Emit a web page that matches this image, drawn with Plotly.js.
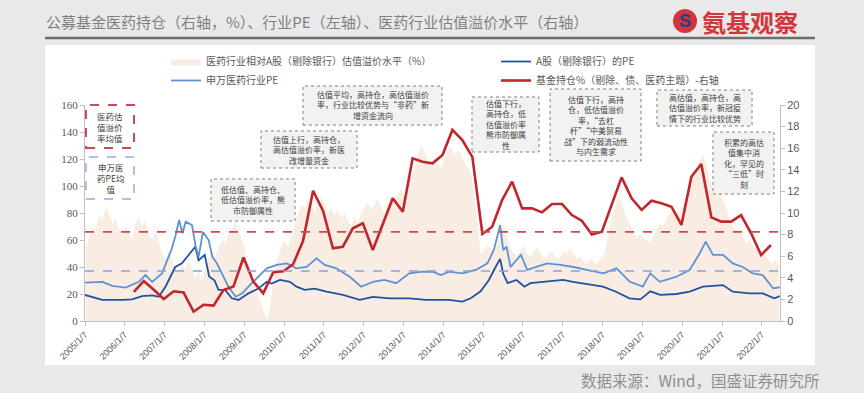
<!DOCTYPE html>
<html><head><meta charset="utf-8">
<script src="https://cdn.plot.ly/plotly-3.0.1.min.js"></script>
<style>html,body{margin:0;padding:0;background:#e9e9e9;}#chart{width:864px;height:393px;}</style>
</head><body><div id="chart"></div>
<script>
// ---------- DATA ----------
// Year tick labels
const tickYears = [2005,2006,2007,2008,2009,2010,2011,2012,2013,2014,2015,2016,2017,2018,2019,2020,2021,2022];
const tickLabels = tickYears.map(y => y + '/1/7');

// 医药行业相对A股（剔除银行）估值溢价水平（%） monthly, 2005-01 .. 2022-06
const premiumStart = [2005, 1];
const premiumValues = [
  55,62,70,66,78,74,85,80,72,76,68,64,
  70,66,60,72,78,70,74,64,60,66,58,50,
  46,52,44,40,36,42,38,44,40,32,38,30,
  40,46,52,48,55,60,58,64,68,72,66,60,
  52,40,30,24,18,12,4,2,20,42,48,56,
  60,54,62,72,80,86,84,90,86,80,88,92,
  86,80,84,78,82,76,80,74,70,78,72,80,
  84,88,82,86,90,84,80,86,92,88,94,98,
  92,100,106,112,122,130,126,118,114,120,116,112,
  120,126,130,122,126,124,118,114,110,96,70,50,
  52,56,54,50,58,66,72,62,54,50,48,52,
  56,50,48,52,54,50,46,48,52,50,46,48,
  52,50,54,50,46,48,44,42,46,44,42,46,
  48,58,70,80,88,92,84,76,72,66,62,64,
  62,60,58,62,68,72,70,76,80,84,82,80,
  86,94,100,106,112,118,124,116,104,98,92,96,
  90,84,74,70,66,68,62,58,60,56,54,52,
  50,48,44,42,46,40
];
const premiumMean = 66;   // 医药估值溢价率均值
const swPeMean = 37;      // 申万医药PE均值

// A股（剔除银行）的PE
const aPeDates = ['2005-01-07','2005-06-15','2005-12-15','2006-03-15','2006-06-15','2006-09-15','2006-11-15','2007-01-15','2007-04-15','2007-06-15','2007-10-15','2007-11-15','2008-01-10','2008-02-20','2008-04-10','2008-05-15','2008-07-15','2008-09-15','2008-11-15','2009-02-15','2009-05-15','2009-08-01','2009-09-15','2009-12-01','2010-03-01','2010-05-01','2010-07-15','2010-10-15','2011-02-01','2011-07-01','2011-12-01','2012-04-01','2012-09-01','2013-03-01','2013-08-01','2013-12-01','2014-03-01','2014-07-01','2014-09-15','2014-12-15','2015-03-01','2015-05-01','2015-06-12','2015-07-10','2015-08-20','2015-11-10','2016-01-20','2016-03-15','2016-08-15','2017-01-10','2017-04-10','2017-08-10','2018-01-10','2018-05-10','2018-09-10','2018-12-20','2019-03-20','2019-06-20','2019-11-15','2020-03-15','2020-07-15','2021-01-15','2021-04-15','2021-09-15','2022-01-15','2022-05-01','2022-06-20'];
const aPeValues = [19.3,15.6,15.6,16,18.5,19,18,25.4,40,42.7,55,45,49,33,30,23,23,16.8,15.6,20.5,24,29,27.7,30.4,29,25.4,23,24,21.7,19.3,15.6,17.9,16.8,16.8,15.6,15.6,15.6,14.3,16.8,22,30.4,40,46,35,28,30.4,25.4,28,29,30.4,29,27.4,25.4,21.7,16.8,16,22,19.3,20,21.7,25.4,26.6,21.7,20.5,20.5,16.8,18.4];

// 申万医药行业PE
const swPeDates = ['2005-01-07','2005-06-15','2005-09-15','2006-01-15','2006-05-15','2006-07-15','2006-09-15','2006-12-15','2007-01-20','2007-03-10','2007-04-15','2007-05-20','2007-06-20','2007-07-20','2007-09-15','2007-10-20','2007-11-15','2007-12-25','2008-02-15','2008-03-20','2008-05-01','2008-06-15','2008-08-15','2008-10-20','2008-12-20','2009-03-01','2009-05-15','2009-08-01','2009-11-01','2010-02-01','2010-05-01','2010-08-01','2010-11-01','2011-01-15','2011-05-01','2011-09-01','2011-12-15','2012-04-01','2012-07-15','2012-11-01','2013-03-01','2013-07-01','2013-10-01','2013-12-15','2014-03-01','2014-07-01','2014-11-01','2015-02-15','2015-04-15','2015-06-12','2015-07-10','2015-08-10','2015-09-15','2015-12-20','2016-02-15','2016-05-15','2016-08-15','2016-12-15','2017-04-15','2017-08-15','2018-01-15','2018-05-15','2018-09-15','2019-01-10','2019-03-20','2019-06-15','2019-11-15','2020-03-15','2020-06-15','2020-08-10','2020-10-15','2021-01-15','2021-04-15','2021-07-15','2021-10-15','2022-01-15','2022-04-20','2022-06-20'];
const swPeValues = [28.4,29,26,24.7,29,34,29,35.3,42.7,52.6,62.5,74.8,65,73.6,71,55,47.6,66,60,47.6,42.7,35.3,25.4,18,20.5,26.7,32.8,39,41.5,42.7,39,40,46.4,41.5,39,32.8,25.4,29,30.4,28,35.3,36.5,36.5,34,36.5,35.3,37.8,42.7,52.6,71,52.6,55,40,49,37.8,40,42.7,41.5,40,37.8,35.3,39,29,25.4,35.3,29,32.8,37.8,50,58.8,49,49,42.7,40,35.3,34,24.2,25];

// 基金持仓%（剔除、债、医药主题） quarterly, right axis
const fundDates = ['2006-03-31','2006-06-30','2006-09-30','2006-12-31','2007-03-31','2007-06-30','2007-09-30','2007-12-31','2008-03-31','2008-06-30','2008-09-30','2008-12-31','2009-03-31','2009-06-30','2009-09-30','2009-12-31','2010-03-31','2010-06-30','2010-09-30','2010-12-31','2011-03-31','2011-06-30','2011-09-30','2011-12-31','2012-03-31','2012-06-30','2012-09-30','2012-12-31','2013-03-31','2013-06-30','2013-09-30','2013-12-31','2014-03-31','2014-06-30','2014-09-30','2014-12-31','2015-03-31','2015-06-30','2015-09-30','2015-12-31','2016-03-31','2016-06-30','2016-09-30','2016-12-31','2017-03-31','2017-06-30','2017-09-30','2017-12-31','2018-03-31','2018-06-30','2018-09-30','2018-12-31','2019-03-31','2019-06-30','2019-09-30','2019-12-31','2020-03-31','2020-06-30','2020-09-30','2020-12-31','2021-03-31','2021-06-30','2021-09-30','2021-12-31','2022-03-31'];
const fundValues = [2.7,3.7,2.9,2.04,2.75,2.65,0.86,1.5,1.42,2.87,3.2,5.88,3.64,2.56,4.52,4.6,5.26,7.4,12.06,10.2,6.73,6.88,8.58,9.04,6.57,8.9,11.36,10.12,15.06,14.75,14.6,15.37,17.69,16.76,15.2,8.06,8.73,11.2,12.9,10.43,10.43,10.06,10.83,10.83,9.81,9.29,8.0,8.27,10.8,13.3,11.36,10.28,11.14,10.9,10.58,8.89,13.36,14.54,9.6,9.2,9.2,9.81,8.12,6.11,7.04];

// Legend / text labels
const seriesNames = ['医药行业相对A股（剔除银行）估值溢价水平（%）','A股（剔除银行）的PE','申万医药行业PE','基金持仓%（剔除、债、医药主题）-右轴'];
const titleText = '公募基金医药持仓（右轴，%）、行业PE（左轴）、医药行业估值溢价水平（右轴）';
const sourceText = '数据来源：Wind，国盛证券研究所';
const logoText = '氨基观察';
const boxTexts = [
  '医药估<br>值溢价<br>率均值',
  '申万医<br>药PE均<br>值',
  '低估值、高持仓、<br>低估值溢价率，熊<br>市防御属性',
  '估值上行，高持仓，<br>高估值溢价率，新医<br>改增量资金',
  '估值平均，高持仓，高估值溢价<br>率，行业比较优势与“非药”新<br>增资金流向',
  '估值下行，<br>高持仓，低<br>估值溢价率<br>熊市防御属<br>性',
  '估值下行，高持<br>仓，低估值溢价<br>率，“去杠<br>杆”“中美贸易<br>战”下的弱流动性<br>与内生需求',
  '高估值，高持仓，高<br>估值溢价率，新冠疫<br>情下的行业比较优势',
  '积累的高估<br>值集中消<br>化，罕见的<br>“三低”时<br>刻'
];

// ---------- BUILD ----------
const premiumDates = premiumValues.map((v, i) => {
  const m = premiumStart[1] - 1 + i;
  const y = premiumStart[0] + Math.floor(m / 12);
  const mm = (m % 12) + 1;
  return y + '-' + String(mm).padStart(2, '0') + '-15';
});
const tickVals = tickYears.map(y => y + '-01-07');

// pixel -> paper helpers (plot area: x 85..780, y 105..321)
const L = 85, R = 780, T = 105, B = 321;
const px = x => (x - L) / (R - L);
const py = y => (B - y) / (B - T);

const CJK = '"Noto Sans CJK SC", "Noto Sans", sans-serif';

const traces = [
  {x: premiumDates, y: premiumValues, name: seriesNames[0], type: 'scatter', mode: 'lines',
   fill: 'tozeroy', fillcolor: '#f9ece2', line: {width: 0, color: '#f9ece2'}, yaxis: 'y'},
  {x: aPeDates, y: aPeValues, name: seriesNames[1], type: 'scatter', mode: 'lines',
   line: {width: 1.8, color: '#2152a0'}, yaxis: 'y'},
  {x: swPeDates, y: swPeValues, name: seriesNames[2], type: 'scatter', mode: 'lines',
   line: {width: 1.8, color: '#5f92d4'}, yaxis: 'y'},
  {x: fundDates, y: fundValues, name: seriesNames[3], type: 'scatter', mode: 'lines',
   line: {width: 2.6, color: '#c0262d'}, yaxis: 'y2'}
];

// annotation boxes [x0,x1,y0,y1] in pixels
const boxes = [
  [86,134,105,148],[86,134,157,199],[211,295,179,221],[261,357,131,168],
  [303,442,86,125],[472,539,97,152],[550,641,89,161],[657,752,90,126],[713,774,132,194]
];

const shapes = [
  {type:'rect', xref:'paper', yref:'paper', x0:px(45), x1:px(815), y0:py(365), y1:py(45),
   fillcolor:'#ffffff', line:{width:0}, layer:'below'},
  {type:'line', xref:'paper', yref:'paper', x0:px(45), x1:px(815), y0:py(38), y1:py(38),
   line:{color:'#6e6e6e', width:2.5}},
  {type:'line', xref:'paper', yref:'y', x0:0, x1:1, y0:premiumMean, y1:premiumMean,
   line:{color:'#d9474b', width:1.6, dash:'dash'}},
  {type:'line', xref:'paper', yref:'y', x0:0, x1:1, y0:swPeMean, y1:swPeMean,
   line:{color:'#7ea6da', width:1.6, dash:'dash'}},
  {type:'circle', xref:'paper', yref:'paper', x0:px(673), x1:px(697), y0:py(33), y1:py(9),
   fillcolor:'#d2353b', line:{width:0}}
];
boxes.forEach((b, i) => {
  let style;
  if (i === 0) style = {fillcolor:'#ffffff', line:{color:'#cf4a4e', width:2, dash:'dash'}};
  else if (i === 1) style = {fillcolor:'#ffffff', line:{color:'#a8c4ea', width:2, dash:'dash'}};
  else style = {fillcolor:'#f2f2f2', line:{color:'#808080', width:1, dash:'dot'}};
  shapes.push(Object.assign({type:'rect', xref:'paper', yref:'paper',
    x0:px(b[0]), x1:px(b[1]), y0:py(b[3]), y1:py(b[2]), layer:'above'}, style));
});

const annotations = [
  {text: titleText, xref:'paper', yref:'paper', x:px(44), y:py(21), xanchor:'left', yanchor:'middle',
   showarrow:false, font:{family:CJK, size:15, color:'#808080'}},
  {text: '<b>' + logoText + '</b>', xref:'paper', yref:'paper', x:px(700), y:py(21), xanchor:'left', yanchor:'middle',
   showarrow:false, font:{family:CJK, size:24, color:'#d2353b'}},
  {text: '<b>S</b>', xref:'paper', yref:'paper', x:px(685), y:py(21), xanchor:'center', yanchor:'middle',
   showarrow:false, font:{family:'"Liberation Sans", sans-serif', size:18, color:'#1f3f8f'}},
  {text: sourceText, xref:'paper', yref:'paper', x:px(821), y:py(380), xanchor:'right', yanchor:'middle',
   showarrow:false, font:{family:CJK, size:15.5, color:'#8e8e8e'}}
];
boxes.forEach((b, i) => {
  annotations.push({text: boxTexts[i], xref:'paper', yref:'paper',
    x:px((b[0]+b[1])/2), y:py((b[2]+b[3])/2), xanchor:'center', yanchor:'middle', align:'center',
    showarrow:false, font:{family:CJK, size: i < 2 ? 8.5 : 8, color:'#404040'}});
});

const layout = {
  width: 864, height: 393,
  margin: {l: L, r: 864 - R, t: T, b: 393 - B, pad: 0},
  paper_bgcolor: '#e9e9e9',
  plot_bgcolor: 'rgba(0,0,0,0)',
  showlegend: true,
  legend: {orientation:'h', x: px(166), y: py(47), xanchor:'left', yanchor:'top',
    entrywidth: 285, entrywidthmode:'pixels', bgcolor:'rgba(0,0,0,0)',
    font:{family:CJK, size:10, color:'#595959'}, traceorder:'normal'},
  xaxis: {type:'date', range:['2005-01-07','2022-06-22'], tickvals: tickVals, ticktext: tickLabels,
    tickangle:-45, ticks:'outside', ticklen:4, tickcolor:'#bfbfbf', showline:true, linecolor:'#bfbfbf',
    showgrid:false, zeroline:false, tickfont:{family:'"Liberation Sans", sans-serif', size:9, color:'#595959'}},
  yaxis: {range:[0,160], dtick:20, ticks:'outside', ticklen:4, tickcolor:'#bfbfbf', showline:true,
    linecolor:'#bfbfbf', showgrid:false, zeroline:false,
    tickfont:{family:'"Liberation Serif", serif', size:11, color:'#595959'}},
  yaxis2: {range:[0,20], dtick:2, overlaying:'y', side:'right', anchor:'x', ticks:'outside', ticklen:4,
    tickcolor:'#bfbfbf', showline:true, linecolor:'#bfbfbf', showgrid:false, zeroline:false,
    tickfont:{family:'"Liberation Sans", sans-serif', size:11, color:'#595959'}},
  shapes: shapes,
  annotations: annotations
};

Plotly.newPlot('chart', traces, layout, {displayModeBar:false, staticPlot:true});
</script></body></html>
